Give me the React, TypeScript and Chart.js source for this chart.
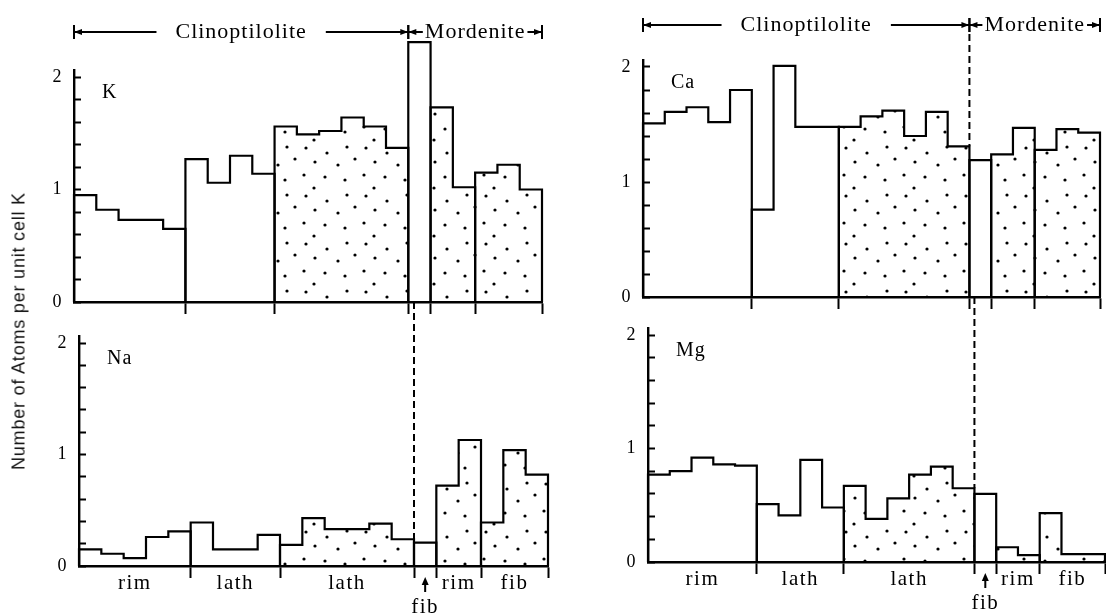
import React, { useEffect, useRef } from 'react';
import { Chart, registerables } from 'chart.js';

Chart.register(...registerables);

// ---- data ----
const groupNames = ['rim', 'lath', 'lath', 'fib', 'rim', 'fib'];
const groupSizes = [5, 4, 6, 1, 2, 3];
const groupDotted = [false, false, true, false, true, true];
const mineralNames = ['Clinoptilolite', 'Mordenite'];
const mineralEnds = [15, 21];

const kValues = [0.95, 0.82, 0.73, 0.73, 0.65, 1.27, 1.06, 1.30, 1.14, 1.56, 1.49, 1.52, 1.64, 1.56, 1.37, 2.31, 1.73, 1.02, 1.15, 1.22, 1.00];
const naValues = [0.15, 0.11, 0.07, 0.26, 0.31, 0.39, 0.15, 0.15, 0.28, 0.19, 0.43, 0.33, 0.33, 0.38, 0.24, 0.21, 0.72, 1.13, 0.39, 1.04, 0.82];
const caValues = [1.51, 1.61, 1.65, 1.52, 1.80, 0.76, 2.01, 1.48, 1.48, 1.48, 1.57, 1.62, 1.40, 1.61, 1.31, 1.19, 1.24, 1.47, 1.28, 1.46, 1.43];
const mgValues = [0.77, 0.80, 0.92, 0.86, 0.85, 0.51, 0.41, 0.90, 0.48, 0.67, 0.38, 0.56, 0.77, 0.84, 0.65, 0.60, 0.13, 0.06, 0.43, 0.07, 0.07];

const yTickValues = [0, 0.2, 0.4, 0.6, 0.8, 1.0, 1.2, 1.4, 1.6, 1.8, 2.0];
const yTickLabels = ['0', '', '', '', '', '1', '', '', '', '', '2'];
const yMax = 2.06;
const yAxisTitle = 'Number of Atoms per unit cell K';

// ---- layout (pixel geometry of each panel) ----
type Panel = {
  key: string; label: string; values: number[];
  left: number; right: number; bottom: number; y2: number;
  isTop: boolean; labelY?: number; dashFrom?: number;
};

const panels: Panel[] = [
  { key: 'K', label: 'K', values: kValues, left: 74, right: 542, bottom: 302, y2: 77, isTop: true, labelY: 32 },
  { key: 'Na', label: 'Na', values: naValues, left: 79, right: 548, bottom: 566, y2: 343, isTop: false, dashFrom: 302 },
  { key: 'Ca', label: 'Ca', values: caValues, left: 643, right: 1100, bottom: 297, y2: 67, isTop: true, labelY: 25 },
  { key: 'Mg', label: 'Mg', values: mgValues, left: 648, right: 1105, bottom: 562, y2: 335, isTop: false, dashFrom: 297 },
];

const W = 1106, H = 615, AXW = 40;

const boundaries: number[] = [];
const centers: number[] = [];
{
  let s = 0;
  groupSizes.forEach((n) => { centers.push(s + n / 2); s += n; boundaries.push(s); });
}

function makePattern(ctx: CanvasRenderingContext2D) {
  const tile = document.createElement('canvas');
  tile.width = 60; tile.height = 48;
  const t = tile.getContext('2d')!;
  const dots = [[6, 4], [27, 9], [47, 3], [15, 18], [38, 21], [55, 15], [4, 31], [25, 33], [45, 36], [14, 44]];
  t.fillStyle = '#000';
  dots.forEach(([x, y]) => { t.beginPath(); t.arc(x, y, 1.6, 0, Math.PI * 2); t.fill(); });
  return ctx.createPattern(tile, 'repeat');
}

function arrowHead(ctx: CanvasRenderingContext2D, x: number, y: number, dir: number) {
  ctx.beginPath();
  ctx.moveTo(x, y);
  ctx.lineTo(x - dir * 8, y - 3);
  ctx.lineTo(x - dir * 8, y + 3);
  ctx.closePath();
  ctx.fill();
}

function vBar(ctx: CanvasRenderingContext2D, x: number, y: number) {
  ctx.beginPath(); ctx.moveTo(x, y - 7); ctx.lineTo(x, y + 7); ctx.stroke();
}

function drawSpan(ctx: CanvasRenderingContext2D, xa: number, xb: number, y: number, text: string, gap: number) {
  ctx.font = '22px "Liberation Serif"';
  (ctx as any).letterSpacing = '1px';
  const w = ctx.measureText(text).width;
  const cx = (xa + xb) / 2;
  ctx.textAlign = 'center';
  ctx.textBaseline = 'alphabetic';
  ctx.fillText(text, cx, y + 6);
  ctx.beginPath(); ctx.moveTo(xa, y); ctx.lineTo(cx - w / 2 - gap, y); ctx.stroke();
  ctx.beginPath(); ctx.moveTo(cx + w / 2 + gap, y); ctx.lineTo(xb, y); ctx.stroke();
  arrowHead(ctx, xa, y, -1);
  arrowHead(ctx, xb, y, 1);
  vBar(ctx, xa, y);
  vBar(ctx, xb, y);
}

function overlayPlugin(p: Panel) {
  return {
    id: 'overlay' + p.key,
    beforeDraw(chart: any) {
      (chart.ctx as any).letterSpacing = '1.5px';
    },
    afterDraw(chart: any) {
      const ctx: CanvasRenderingContext2D = chart.ctx;
      const xs = chart.scales.x, ys = chart.scales.y;
      const area = chart.chartArea;
      ctx.save();
      ctx.fillStyle = '#000';
      ctx.strokeStyle = '#000';
      ctx.lineWidth = 2;
      ctx.font = '20px "Liberation Serif"';
      (ctx as any).letterSpacing = '1px';
      ctx.textAlign = 'left';
      ctx.textBaseline = 'middle';
      ctx.fillText(p.label, area.left + 28, ys.getPixelForValue(1.86));

      const xb = xs.getPixelForValue(mineralEnds[0]);
      const bandTop = Math.max(p.values[mineralEnds[0] - 1], p.values[mineralEnds[0]]);
      if (p.isTop) {
        const x0 = xs.getPixelForValue(0);
        const x1 = xs.getPixelForValue(mineralEnds[1]);
        const y = p.labelY!;
        drawSpan(ctx, x0, xb, y, mineralNames[0], 19);
        drawSpan(ctx, xb, x1, y, mineralNames[1], 2);
        if (p.key === 'Ca') {
          ctx.setLineDash([7, 4]);
          ctx.beginPath(); ctx.moveTo(xb, y + 9); ctx.lineTo(xb, ys.getPixelForValue(bandTop)); ctx.stroke();
          ctx.setLineDash([]);
        }
      } else {
        ctx.setLineDash([7, 4]);
        ctx.beginPath(); ctx.moveTo(xb, p.dashFrom!); ctx.lineTo(xb, ys.getPixelForValue(bandTop)); ctx.stroke();
        ctx.setLineDash([]);
        // arrow pointing at the single "fib" bar
        const gi = groupSizes.findIndex((n) => n === 1);
        const cx = xs.getPixelForValue(centers[gi]);
        const b = area.bottom;
        ctx.beginPath(); ctx.moveTo(cx, b + 26); ctx.lineTo(cx, b + 16); ctx.stroke();
        ctx.beginPath(); ctx.moveTo(cx, b + 11); ctx.lineTo(cx - 3.5, b + 19); ctx.lineTo(cx + 3.5, b + 19); ctx.closePath(); ctx.fill();
      }
      ctx.restore();
    },
  };
}

function makeConfig(p: Panel, pattern: CanvasPattern | null): any {
  const ppu = (p.bottom - p.y2) / 2;
  const top = p.bottom - yMax * ppu;
  const axh = H - p.bottom;
  const datasets: any[] = [];
  let start = 0;
  groupSizes.forEach((n, g) => {
    const vals = p.values.slice(start, start + n);
    const pts: { x: number; y: number }[] = [{ x: start, y: 0 }];
    vals.forEach((v, i) => {
      pts.push({ x: start + i, y: v });
      pts.push({ x: start + i + 1, y: v });
    });
    pts.push({ x: start + n, y: 0 });
    datasets.push({
      data: pts,
      borderColor: '#000',
      borderWidth: 2.2,
      borderJoinStyle: 'miter',
      pointRadius: 0,
      pointHoverRadius: 0,
      tension: 0,
      fill: groupDotted[g] ? 'origin' : false,
      backgroundColor: groupDotted[g] ? pattern : 'rgba(0,0,0,0)',
      clip: false,
    });
    start += n;
  });

  const tickVals = p.isTop ? boundaries : [...boundaries, ...centers].sort((a, b) => a - b);

  return {
    type: 'line',
    data: { datasets },
    options: {
      responsive: false,
      animation: false,
      devicePixelRatio: 1,
      events: [],
      layout: { padding: { left: p.left - AXW, right: W - p.right, top, bottom: 0 } },
      plugins: { legend: { display: false }, tooltip: { enabled: false }, title: { display: false } },
      scales: {
        x: {
          type: 'linear',
          min: 0,
          max: mineralEnds[1],
          position: 'bottom',
          afterBuildTicks: (s: any) => { s.ticks = tickVals.map((v) => ({ value: v })); },
          afterFit: (s: any) => { s.height = axh; },
          ticks: {
            autoSkip: false,
            maxRotation: 0,
            minRotation: 0,
            padding: -7,
            color: '#000',
            font: { family: '"Liberation Serif"', size: 21, lineHeight: 1.15 },
            callback: (v: number) => {
              if (p.isTop) return '';
              const gi = centers.indexOf(v);
              if (gi < 0) return '';
              return groupSizes[gi] === 1 ? ['', groupNames[gi]] : groupNames[gi];
            },
          },
          grid: {
            drawOnChartArea: false,
            drawTicks: true,
            tickLength: 12,
            tickWidth: 2,
            tickColor: (c: any) => (c.tick && boundaries.includes(c.tick.value) ? '#000' : 'rgba(0,0,0,0)'),
          },
          border: { display: true, color: '#000', width: 2.4 },
        },
        y: {
          type: 'linear',
          min: 0,
          max: yMax,
          afterBuildTicks: (s: any) => { s.ticks = yTickValues.map((v) => ({ value: v })); },
          afterFit: (s: any) => { s.width = AXW; },
          ticks: {
            autoSkip: false,
            padding: 18,
            color: '#000',
            font: { family: '"Liberation Serif"', size: 18 },
            callback: (_v: number, i: number) => yTickLabels[i] ?? '',
          },
          grid: { drawOnChartArea: false, drawTicks: true, tickLength: -7, tickWidth: 2, tickColor: '#000' },
          border: { display: true, color: '#000', width: 2.4 },
        },
      },
    },
    plugins: [overlayPlugin(p)],
  };
}

export default function App() {
  const canvases = useRef<(HTMLCanvasElement | null)[]>([]);
  useEffect(() => {
    const charts = panels.map((p, i) => {
      const cv = canvases.current[i]!;
      const pattern = makePattern(cv.getContext('2d')!);
      return new Chart(cv, makeConfig(p, pattern));
    });
    return () => charts.forEach((c) => c.destroy());
  }, []);
  return (
    <div style={{ position: 'fixed', left: 0, top: 0, width: W, height: H, background: '#fff', overflow: 'hidden' }}>
      {panels.map((p, i) => (
        <canvas
          key={p.key}
          ref={(el) => { canvases.current[i] = el; }}
          width={W}
          height={H}
          style={{ position: 'absolute', left: 0, top: 0, width: W, height: H }}
        />
      ))}
      <div
        style={{
          position: 'absolute', left: 19, top: 331,
          transform: 'translate(-50%, -50%) rotate(-90deg)',
          whiteSpace: 'nowrap', font: '18px "Liberation Sans"', letterSpacing: '0.8px', color: '#111',
        }}
      >
        {yAxisTitle}
      </div>
    </div>
  );
}
